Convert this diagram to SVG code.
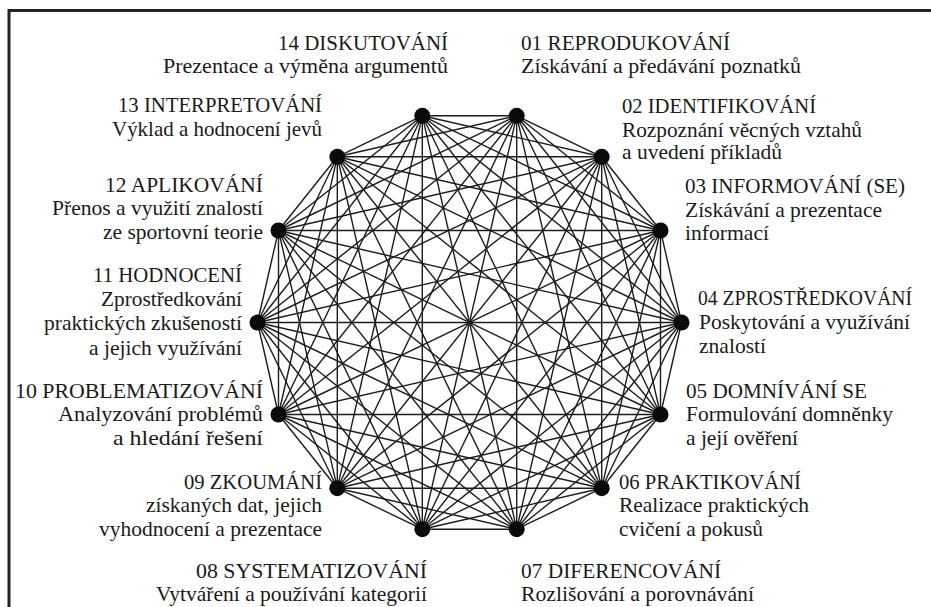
<svg xmlns="http://www.w3.org/2000/svg" width="931" height="607" viewBox="0 0 931 607">
<style>
.bg{fill:#fff}
.frame{fill:none;stroke:#222;stroke-width:3}
.e line{stroke:#1c1c1c;stroke-width:1.4}
.n{fill:#0a0a0a}
.t text{font-family:"Liberation Serif","Times New Roman",serif;font-size:21.5px;fill:#1a1a1a}
.t .l{text-anchor:end}
</style>
<rect class="bg" x="0" y="0" width="931" height="607"/>
<path class="frame" d="M9 607V10.5H931"/>
<g id="connectors" class="e">
<line x1="516.7" y1="115.8" x2="601.7" y2="156.8"/>
<line x1="516.7" y1="115.8" x2="660.5" y2="230.5"/>
<line x1="516.7" y1="115.8" x2="681.5" y2="322.5"/>
<line x1="516.7" y1="115.8" x2="660.5" y2="414.5"/>
<line x1="516.7" y1="115.8" x2="601.7" y2="488.2"/>
<line x1="516.7" y1="115.8" x2="516.7" y2="529.2"/>
<line x1="516.7" y1="115.8" x2="422.3" y2="529.2"/>
<line x1="516.7" y1="115.8" x2="337.3" y2="488.2"/>
<line x1="516.7" y1="115.8" x2="278.5" y2="414.5"/>
<line x1="516.7" y1="115.8" x2="257.5" y2="322.5"/>
<line x1="516.7" y1="115.8" x2="278.5" y2="230.5"/>
<line x1="516.7" y1="115.8" x2="337.3" y2="156.8"/>
<line x1="516.7" y1="115.8" x2="422.3" y2="115.8"/>
<line x1="601.7" y1="156.8" x2="660.5" y2="230.5"/>
<line x1="601.7" y1="156.8" x2="681.5" y2="322.5"/>
<line x1="601.7" y1="156.8" x2="660.5" y2="414.5"/>
<line x1="601.7" y1="156.8" x2="601.7" y2="488.2"/>
<line x1="601.7" y1="156.8" x2="516.7" y2="529.2"/>
<line x1="601.7" y1="156.8" x2="422.3" y2="529.2"/>
<line x1="601.7" y1="156.8" x2="337.3" y2="488.2"/>
<line x1="601.7" y1="156.8" x2="278.5" y2="414.5"/>
<line x1="601.7" y1="156.8" x2="257.5" y2="322.5"/>
<line x1="601.7" y1="156.8" x2="278.5" y2="230.5"/>
<line x1="601.7" y1="156.8" x2="337.3" y2="156.8"/>
<line x1="601.7" y1="156.8" x2="422.3" y2="115.8"/>
<line x1="660.5" y1="230.5" x2="681.5" y2="322.5"/>
<line x1="660.5" y1="230.5" x2="660.5" y2="414.5"/>
<line x1="660.5" y1="230.5" x2="601.7" y2="488.2"/>
<line x1="660.5" y1="230.5" x2="516.7" y2="529.2"/>
<line x1="660.5" y1="230.5" x2="422.3" y2="529.2"/>
<line x1="660.5" y1="230.5" x2="337.3" y2="488.2"/>
<line x1="660.5" y1="230.5" x2="278.5" y2="414.5"/>
<line x1="660.5" y1="230.5" x2="257.5" y2="322.5"/>
<line x1="660.5" y1="230.5" x2="278.5" y2="230.5"/>
<line x1="660.5" y1="230.5" x2="337.3" y2="156.8"/>
<line x1="660.5" y1="230.5" x2="422.3" y2="115.8"/>
<line x1="681.5" y1="322.5" x2="660.5" y2="414.5"/>
<line x1="681.5" y1="322.5" x2="601.7" y2="488.2"/>
<line x1="681.5" y1="322.5" x2="516.7" y2="529.2"/>
<line x1="681.5" y1="322.5" x2="422.3" y2="529.2"/>
<line x1="681.5" y1="322.5" x2="337.3" y2="488.2"/>
<line x1="681.5" y1="322.5" x2="278.5" y2="414.5"/>
<line x1="681.5" y1="322.5" x2="257.5" y2="322.5"/>
<line x1="681.5" y1="322.5" x2="278.5" y2="230.5"/>
<line x1="681.5" y1="322.5" x2="337.3" y2="156.8"/>
<line x1="681.5" y1="322.5" x2="422.3" y2="115.8"/>
<line x1="660.5" y1="414.5" x2="601.7" y2="488.2"/>
<line x1="660.5" y1="414.5" x2="516.7" y2="529.2"/>
<line x1="660.5" y1="414.5" x2="422.3" y2="529.2"/>
<line x1="660.5" y1="414.5" x2="337.3" y2="488.2"/>
<line x1="660.5" y1="414.5" x2="278.5" y2="414.5"/>
<line x1="660.5" y1="414.5" x2="257.5" y2="322.5"/>
<line x1="660.5" y1="414.5" x2="278.5" y2="230.5"/>
<line x1="660.5" y1="414.5" x2="337.3" y2="156.8"/>
<line x1="660.5" y1="414.5" x2="422.3" y2="115.8"/>
<line x1="601.7" y1="488.2" x2="516.7" y2="529.2"/>
<line x1="601.7" y1="488.2" x2="422.3" y2="529.2"/>
<line x1="601.7" y1="488.2" x2="337.3" y2="488.2"/>
<line x1="601.7" y1="488.2" x2="278.5" y2="414.5"/>
<line x1="601.7" y1="488.2" x2="257.5" y2="322.5"/>
<line x1="601.7" y1="488.2" x2="278.5" y2="230.5"/>
<line x1="601.7" y1="488.2" x2="337.3" y2="156.8"/>
<line x1="601.7" y1="488.2" x2="422.3" y2="115.8"/>
<line x1="516.7" y1="529.2" x2="422.3" y2="529.2"/>
<line x1="516.7" y1="529.2" x2="337.3" y2="488.2"/>
<line x1="516.7" y1="529.2" x2="278.5" y2="414.5"/>
<line x1="516.7" y1="529.2" x2="257.5" y2="322.5"/>
<line x1="516.7" y1="529.2" x2="278.5" y2="230.5"/>
<line x1="516.7" y1="529.2" x2="337.3" y2="156.8"/>
<line x1="516.7" y1="529.2" x2="422.3" y2="115.8"/>
<line x1="422.3" y1="529.2" x2="337.3" y2="488.2"/>
<line x1="422.3" y1="529.2" x2="278.5" y2="414.5"/>
<line x1="422.3" y1="529.2" x2="257.5" y2="322.5"/>
<line x1="422.3" y1="529.2" x2="278.5" y2="230.5"/>
<line x1="422.3" y1="529.2" x2="337.3" y2="156.8"/>
<line x1="422.3" y1="529.2" x2="422.3" y2="115.8"/>
<line x1="337.3" y1="488.2" x2="278.5" y2="414.5"/>
<line x1="337.3" y1="488.2" x2="257.5" y2="322.5"/>
<line x1="337.3" y1="488.2" x2="278.5" y2="230.5"/>
<line x1="337.3" y1="488.2" x2="337.3" y2="156.8"/>
<line x1="337.3" y1="488.2" x2="422.3" y2="115.8"/>
<line x1="278.5" y1="414.5" x2="257.5" y2="322.5"/>
<line x1="278.5" y1="414.5" x2="278.5" y2="230.5"/>
<line x1="278.5" y1="414.5" x2="337.3" y2="156.8"/>
<line x1="278.5" y1="414.5" x2="422.3" y2="115.8"/>
<line x1="257.5" y1="322.5" x2="278.5" y2="230.5"/>
<line x1="257.5" y1="322.5" x2="337.3" y2="156.8"/>
<line x1="257.5" y1="322.5" x2="422.3" y2="115.8"/>
<line x1="278.5" y1="230.5" x2="337.3" y2="156.8"/>
<line x1="278.5" y1="230.5" x2="422.3" y2="115.8"/>
<line x1="337.3" y1="156.8" x2="422.3" y2="115.8"/>
</g>
<g class="t">
<g id="n01"><circle class="n" cx="516.7" cy="115.8" r="8"/><text x="521" y="50" textLength="209" lengthAdjust="spacingAndGlyphs">01 REPRODUKOVÁNÍ</text><text x="521" y="73" textLength="280" lengthAdjust="spacingAndGlyphs">Získávání a předávání poznatků</text></g>
<g id="n02"><circle class="n" cx="601.7" cy="156.8" r="8"/><text x="622" y="113" textLength="194" lengthAdjust="spacingAndGlyphs">02 IDENTIFIKOVÁNÍ</text><text x="622" y="137" textLength="240" lengthAdjust="spacingAndGlyphs">Rozpoznání věcných vztahů</text><text x="622" y="159" textLength="160" lengthAdjust="spacingAndGlyphs">a uvedení příkladů</text></g>
<g id="n03"><circle class="n" cx="660.5" cy="230.5" r="8"/><text x="685" y="193" textLength="220" lengthAdjust="spacingAndGlyphs">03 INFORMOVÁNÍ (SE)</text><text x="685" y="217" textLength="197" lengthAdjust="spacingAndGlyphs">Získávání a prezentace</text><text x="685" y="240" textLength="84" lengthAdjust="spacingAndGlyphs">informací</text></g>
<g id="n04"><circle class="n" cx="681.5" cy="322.5" r="8"/><text x="698" y="305" textLength="214" lengthAdjust="spacingAndGlyphs">04 ZPROSTŘEDKOVÁNÍ</text><text x="699" y="329" textLength="211" lengthAdjust="spacingAndGlyphs">Poskytování a využívání</text><text x="699" y="353" textLength="67" lengthAdjust="spacingAndGlyphs">znalostí</text></g>
<g id="n05"><circle class="n" cx="660.5" cy="414.5" r="8"/><text x="686" y="398" textLength="181" lengthAdjust="spacingAndGlyphs">05 DOMNÍVÁNÍ SE</text><text x="686" y="421" textLength="207" lengthAdjust="spacingAndGlyphs">Formulování domněnky</text><text x="686" y="445" textLength="112" lengthAdjust="spacingAndGlyphs">a její ověření</text></g>
<g id="n06"><circle class="n" cx="601.7" cy="488.2" r="8"/><text x="619" y="489" textLength="182" lengthAdjust="spacingAndGlyphs">06 PRAKTIKOVÁNÍ</text><text x="619" y="512" textLength="190" lengthAdjust="spacingAndGlyphs">Realizace praktických</text><text x="619" y="536" textLength="144" lengthAdjust="spacingAndGlyphs">cvičení a pokusů</text></g>
<g id="n07"><circle class="n" cx="516.7" cy="529.2" r="8"/><text x="521" y="578" textLength="200" lengthAdjust="spacingAndGlyphs">07 DIFERENCOVÁNÍ</text><text x="521" y="601" textLength="233" lengthAdjust="spacingAndGlyphs">Rozlišování a porovnávání</text></g>
<g id="n08"><circle class="n" cx="422.3" cy="529.2" r="8"/><text class="l" x="427" y="578" textLength="231" lengthAdjust="spacingAndGlyphs">08 SYSTEMATIZOVÁNÍ</text><text class="l" x="427" y="601" textLength="271" lengthAdjust="spacingAndGlyphs">Vytváření a používání kategorií</text></g>
<g id="n09"><circle class="n" cx="337.3" cy="488.2" r="8"/><text class="l" x="322" y="489" textLength="138" lengthAdjust="spacingAndGlyphs">09 ZKOUMÁNÍ</text><text class="l" x="322" y="512" textLength="176" lengthAdjust="spacingAndGlyphs">získaných dat, jejich</text><text class="l" x="322" y="536" textLength="223" lengthAdjust="spacingAndGlyphs">vyhodnocení a prezentace</text></g>
<g id="n10"><circle class="n" cx="278.5" cy="414.5" r="8"/><text class="l" x="263" y="398" textLength="248" lengthAdjust="spacingAndGlyphs">10 PROBLEMATIZOVÁNÍ</text><text class="l" x="263" y="421" textLength="205" lengthAdjust="spacingAndGlyphs">Analyzování problémů</text><text class="l" x="263" y="445" textLength="150" lengthAdjust="spacingAndGlyphs">a hledání řešení</text></g>
<g id="n11"><circle class="n" cx="257.5" cy="322.5" r="8"/><text class="l" x="242" y="282" textLength="149" lengthAdjust="spacingAndGlyphs">11 HODNOCENÍ</text><text class="l" x="242" y="306" textLength="141" lengthAdjust="spacingAndGlyphs">Zprostředkování</text><text class="l" x="242" y="330" textLength="198" lengthAdjust="spacingAndGlyphs">praktických zkušeností</text><text class="l" x="242" y="355" textLength="153" lengthAdjust="spacingAndGlyphs">a jejich využívání</text></g>
<g id="n12"><circle class="n" cx="278.5" cy="230.5" r="8"/><text class="l" x="263" y="192" textLength="158" lengthAdjust="spacingAndGlyphs">12 APLIKOVÁNÍ</text><text class="l" x="263" y="215" textLength="211" lengthAdjust="spacingAndGlyphs">Přenos a využití znalostí</text><text class="l" x="263" y="239" textLength="160" lengthAdjust="spacingAndGlyphs">ze sportovní teorie</text></g>
<g id="n13"><circle class="n" cx="337.3" cy="156.8" r="8"/><text class="l" x="322" y="112" textLength="204" lengthAdjust="spacingAndGlyphs">13 INTERPRETOVÁNÍ</text><text class="l" x="322" y="136" textLength="210" lengthAdjust="spacingAndGlyphs">Výklad a hodnocení jevů</text></g>
<g id="n14"><circle class="n" cx="422.3" cy="115.8" r="8"/><text class="l" x="448" y="50" textLength="170" lengthAdjust="spacingAndGlyphs">14 DISKUTOVÁNÍ</text><text class="l" x="448" y="73" textLength="285" lengthAdjust="spacingAndGlyphs">Prezentace a výměna argumentů</text></g>
</g>
</svg>
